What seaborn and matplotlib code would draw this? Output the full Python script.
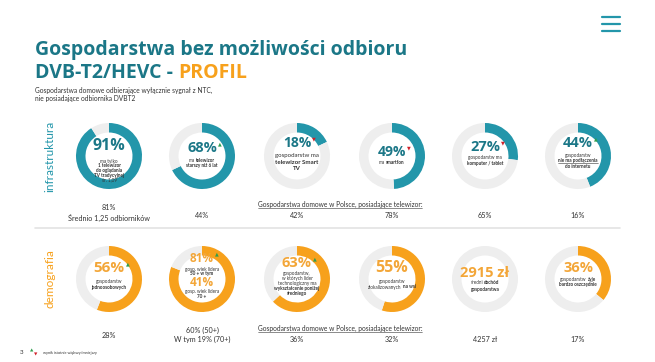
import matplotlib.pyplot as plt
import seaborn as sns

# ---- data ----
infra_values = [91, 68, 18, 49, 27, 44]
infra_main = ["91%", "68%", "18%", "49%", "27%", "44%"]
infra_trend = ["", "up", "down", "down", "down", "up"]
infra_lines = [
    [[("ma tylko", False)], [("1 telewizor", True)], [("do oglądania", True)],
     [("TV tradycyjnej", True)], [("śr. 1,09", False)]],
    [[("ma ", False), ("telewizor", True)], [("starszy niż 6 lat", True)]],
    [[("gospodarstw ma", False)], [("telewizor Smart", True)], [("TV", True)]],
    [[("ma ", False), ("smartfon", True)]],
    [[("gospodarstw ma", False)], [("komputer / tablet", True)]],
    [[("gospodarstw", False)], [("nie ma podłączenia", True)], [("do internetu", True)]],
]
infra_poland = ["81%\nŚrednio 1,25 odbiorników", "44%", "42%", "78%", "65%", "16%"]

demo_values = [56, 81, 63, 55, 0, 36]
demo_main = ["56%", "81%", "63%", "55%", "2915 zł", "36%"]
demo_trend = ["up", "up", "up", "", "", ""]
demo_lines = [
    [[("gospodarstw", False)], [("jednoosobowych", True)]],
    [[("gosp. wiek lidera", False)], [("50 + w tym", True)]],
    [[("gospodarstw,", False)], [("w których lider", False)], [("technologiczny ma", False)],
     [("wykształcenie poniżej", True)], [("średniego", True)]],
    [[("gospodarstw", False)], [("zlokalizowanych ", False), ("na wsi", True)]],
    [[("średni ", False), ("dochód", True)], [("gospodarstwa", True)]],
    [[("gospodarstw ", False), ("żyje", True)], [("bardzo oszczędnie", True)]],
]
demo_extra = ("41%", [[("gosp. wiek lidera", False)], [("70 +", True)]])
demo_poland = ["28%", "60% (50+)\nW tym 19% (70+)", "36%", "32%", "4257 zł", "17%"]

TEAL = "#2396aa"
TEAL_DARK = "#1b7787"
ORANGE = "#f7a11c"
ORANGE_TXT = "#f3a638"
GREY = "#eeeeee"
TXT = "#333333"
TITLE_FONT = "Open Sans"
BODY = "Lato"

sns.set_theme(style="white")
plt.rcParams["font.family"] = [BODY, "DejaVu Sans"]

fig = plt.figure(figsize=(6.55, 3.62), dpi=100)
ax = fig.add_axes([0, 0, 1, 1])
renderer = fig.canvas.get_renderer()


def rich_line(x, y, runs, size, color=TXT, ha="center", family=BODY, underline=False):
    texts, widths = [], []
    for s, bold in runs:
        t = ax.text(0, y, s.strip(), fontsize=size, fontweight="bold" if bold else "normal",
                    color=color, ha="left", va="center", family=family)
        w = t.get_window_extent(renderer).width
        if s.endswith(" "):
            w += size * 0.32
        texts.append(t)
        widths.append(w)
    x0 = x - sum(widths) / 2 if ha == "center" else x
    start = x0
    for t, w in zip(texts, widths):
        t.set_x(x0)
        x0 += w
    if underline:
        ax.plot([start, x0], [y + size * 0.75, y + size * 0.75], color=color, lw=0.4)
    return start, x0


def donut(cx, cy, value, color):
    ax.pie([value, 100 - value], radius=33, center=(cx, cy), colors=[color, GREY],
           startangle=270, counterclock=True, frame=True,
           wedgeprops=dict(width=9.5, edgecolor="none"))


def trend_mark(x, y, kind):
    if kind == "up":
        ax.text(x, y, "▲", fontsize=3.5, color="#2e9e4f", ha="left", va="center",
                family="DejaVu Sans")
    elif kind == "down":
        ax.text(x, y, "▼", fontsize=3.5, color="#d0212a", ha="left", va="center",
                family="DejaVu Sans")


centers_x = [109, 202, 297, 392, 485, 578]
row1_y, row2_y = 156, 279

# layout of the centre texts: (percent y, percent size, first line y, line size, spacing)
infra_layout = [(146, 11.5, 161, 3.3, 4.7), (148, 10.5, 160, 3.3, 5.0),
                (143, 10, 155, 4.4, 7.0), (152, 10, 162, 3.3, 5.0),
                (147, 10.5, 158, 3.3, 5.5), (143, 10.5, 155, 3.3, 5.8)]
demo_layout = [(268, 11, 282, 3.3, 5.0), (258, 8.5, 269, 3.3, 5.0),
               (263, 10.5, 274, 3.3, 4.8), (268, 11.5, 282, 3.3, 5.0),
               (273, 10.5, 283, 3.3, 7.0), (268, 10.5, 279, 3.3, 5.8)]

for i, cx in enumerate(centers_x):
    donut(cx, row1_y, infra_values[i], TEAL)
    py, ps, ly, ls, sp = infra_layout[i]
    t = ax.text(cx, py, infra_main[i], fontsize=ps, fontweight="bold", color=TEAL_DARK,
                ha="center", va="center", family=TITLE_FONT)
    bb = t.get_window_extent(renderer)
    trend_mark(cx + bb.width / 2 + 1, py - 4, infra_trend[i])
    for j, runs in enumerate(infra_lines[i]):
        rich_line(cx, ly + j * sp, runs, ls, underline=(i == 5 and j == 1))

    donut(cx, row2_y, demo_values[i], ORANGE)
    py, ps, ly, ls, sp = demo_layout[i]
    t = ax.text(cx, py, demo_main[i], fontsize=ps, fontweight="bold", color=ORANGE_TXT,
                ha="center", va="center", family=TITLE_FONT)
    bb = t.get_window_extent(renderer)
    trend_mark(cx + bb.width / 2 + 1, py - 4, demo_trend[i])
    for j, runs in enumerate(demo_lines[i]):
        rich_line(cx, ly + j * sp, runs, ls)

# second figure inside the 81% donut
ax.text(centers_x[1], 283, demo_extra[0], fontsize=8.5, fontweight="bold", color=ORANGE_TXT,
        ha="center", va="center", family=TITLE_FONT)
for j, runs in enumerate(demo_extra[1]):
    rich_line(centers_x[1], 292 + j * 5.0, runs, 3.3)

# Polish household reference values
for i, cx in enumerate(centers_x):
    y1 = 213 if i == 0 else 215
    ax.text(cx, y1, infra_poland[i], fontsize=5.2, color=TXT, ha="center", va="center",
            linespacing=1.4)
    y2 = 336 if i == 0 else (335 if i == 1 else 340)
    ax.text(cx, y2, demo_poland[i], fontsize=5.2, color=TXT, ha="center", va="center",
            linespacing=1.4)

ref_label = "Gospodarstwa domowe w Polsce, posiadające telewizor:"
rich_line(340, 204, [(ref_label, False)], 4.8, underline=True)
rich_line(340, 328, [(ref_label, False)], 4.8, underline=True)

# row labels
ax.text(50, row1_y, "infrastruktura", rotation=90, fontsize=8.5, color=TEAL,
        ha="center", va="center")
ax.text(50, row2_y, "demografia", rotation=90, fontsize=8.5, color=ORANGE,
        ha="center", va="center")

# separator
ax.plot([35, 620], [228, 228], color="#e3e3e3", lw=1.2)

# title + subtitle
ax.text(35, 50, "Gospodarstwa bez możliwości odbioru", fontsize=14, fontweight="bold",
        color=TEAL_DARK, ha="left", va="center", family=TITLE_FONT)
t = ax.text(35, 73, "DVB-T2/HEVC -", fontsize=14, fontweight="bold",
            color=TEAL_DARK, ha="left", va="center", family=TITLE_FONT)
w = t.get_window_extent(renderer).width + 5
ax.text(35 + w, 73, "PROFIL", fontsize=14, fontweight="bold", color=ORANGE,
        ha="left", va="center", family=TITLE_FONT)
ax.text(35, 90, "Gospodarstwa domowe odbierające wyłącznie sygnał z NTC,", fontsize=4.8,
        color=TXT, ha="left", va="center")
ax.text(35, 98, "nie posiadające odbiornika DVBT2", fontsize=4.8, color=TXT,
        ha="left", va="center")

# hamburger icon
for yy in (17, 24, 31):
    ax.plot([602, 620], [yy, yy], color=TEAL, lw=1.6, solid_capstyle="round")

# footnote
ax.text(22, 352, "3", fontsize=4.5, color=TXT, ha="center", va="center")
ax.text(32, 350, "▲", fontsize=3.2, color="#2e9e4f", ha="center", va="center",
        family="DejaVu Sans")
ax.text(36, 355, "▼", fontsize=3.2, color="#d0212a", ha="center", va="center",
        family="DejaVu Sans")
ax.text(43, 353, "wynik istotnie większy/mniejszy", fontsize=2.8, color=TXT,
        ha="left", va="center")

ax.set_xlim(0, 655)
ax.set_ylim(362, 0)
ax.axis("off")

fig.savefig("out.png", dpi=100, facecolor="white")
